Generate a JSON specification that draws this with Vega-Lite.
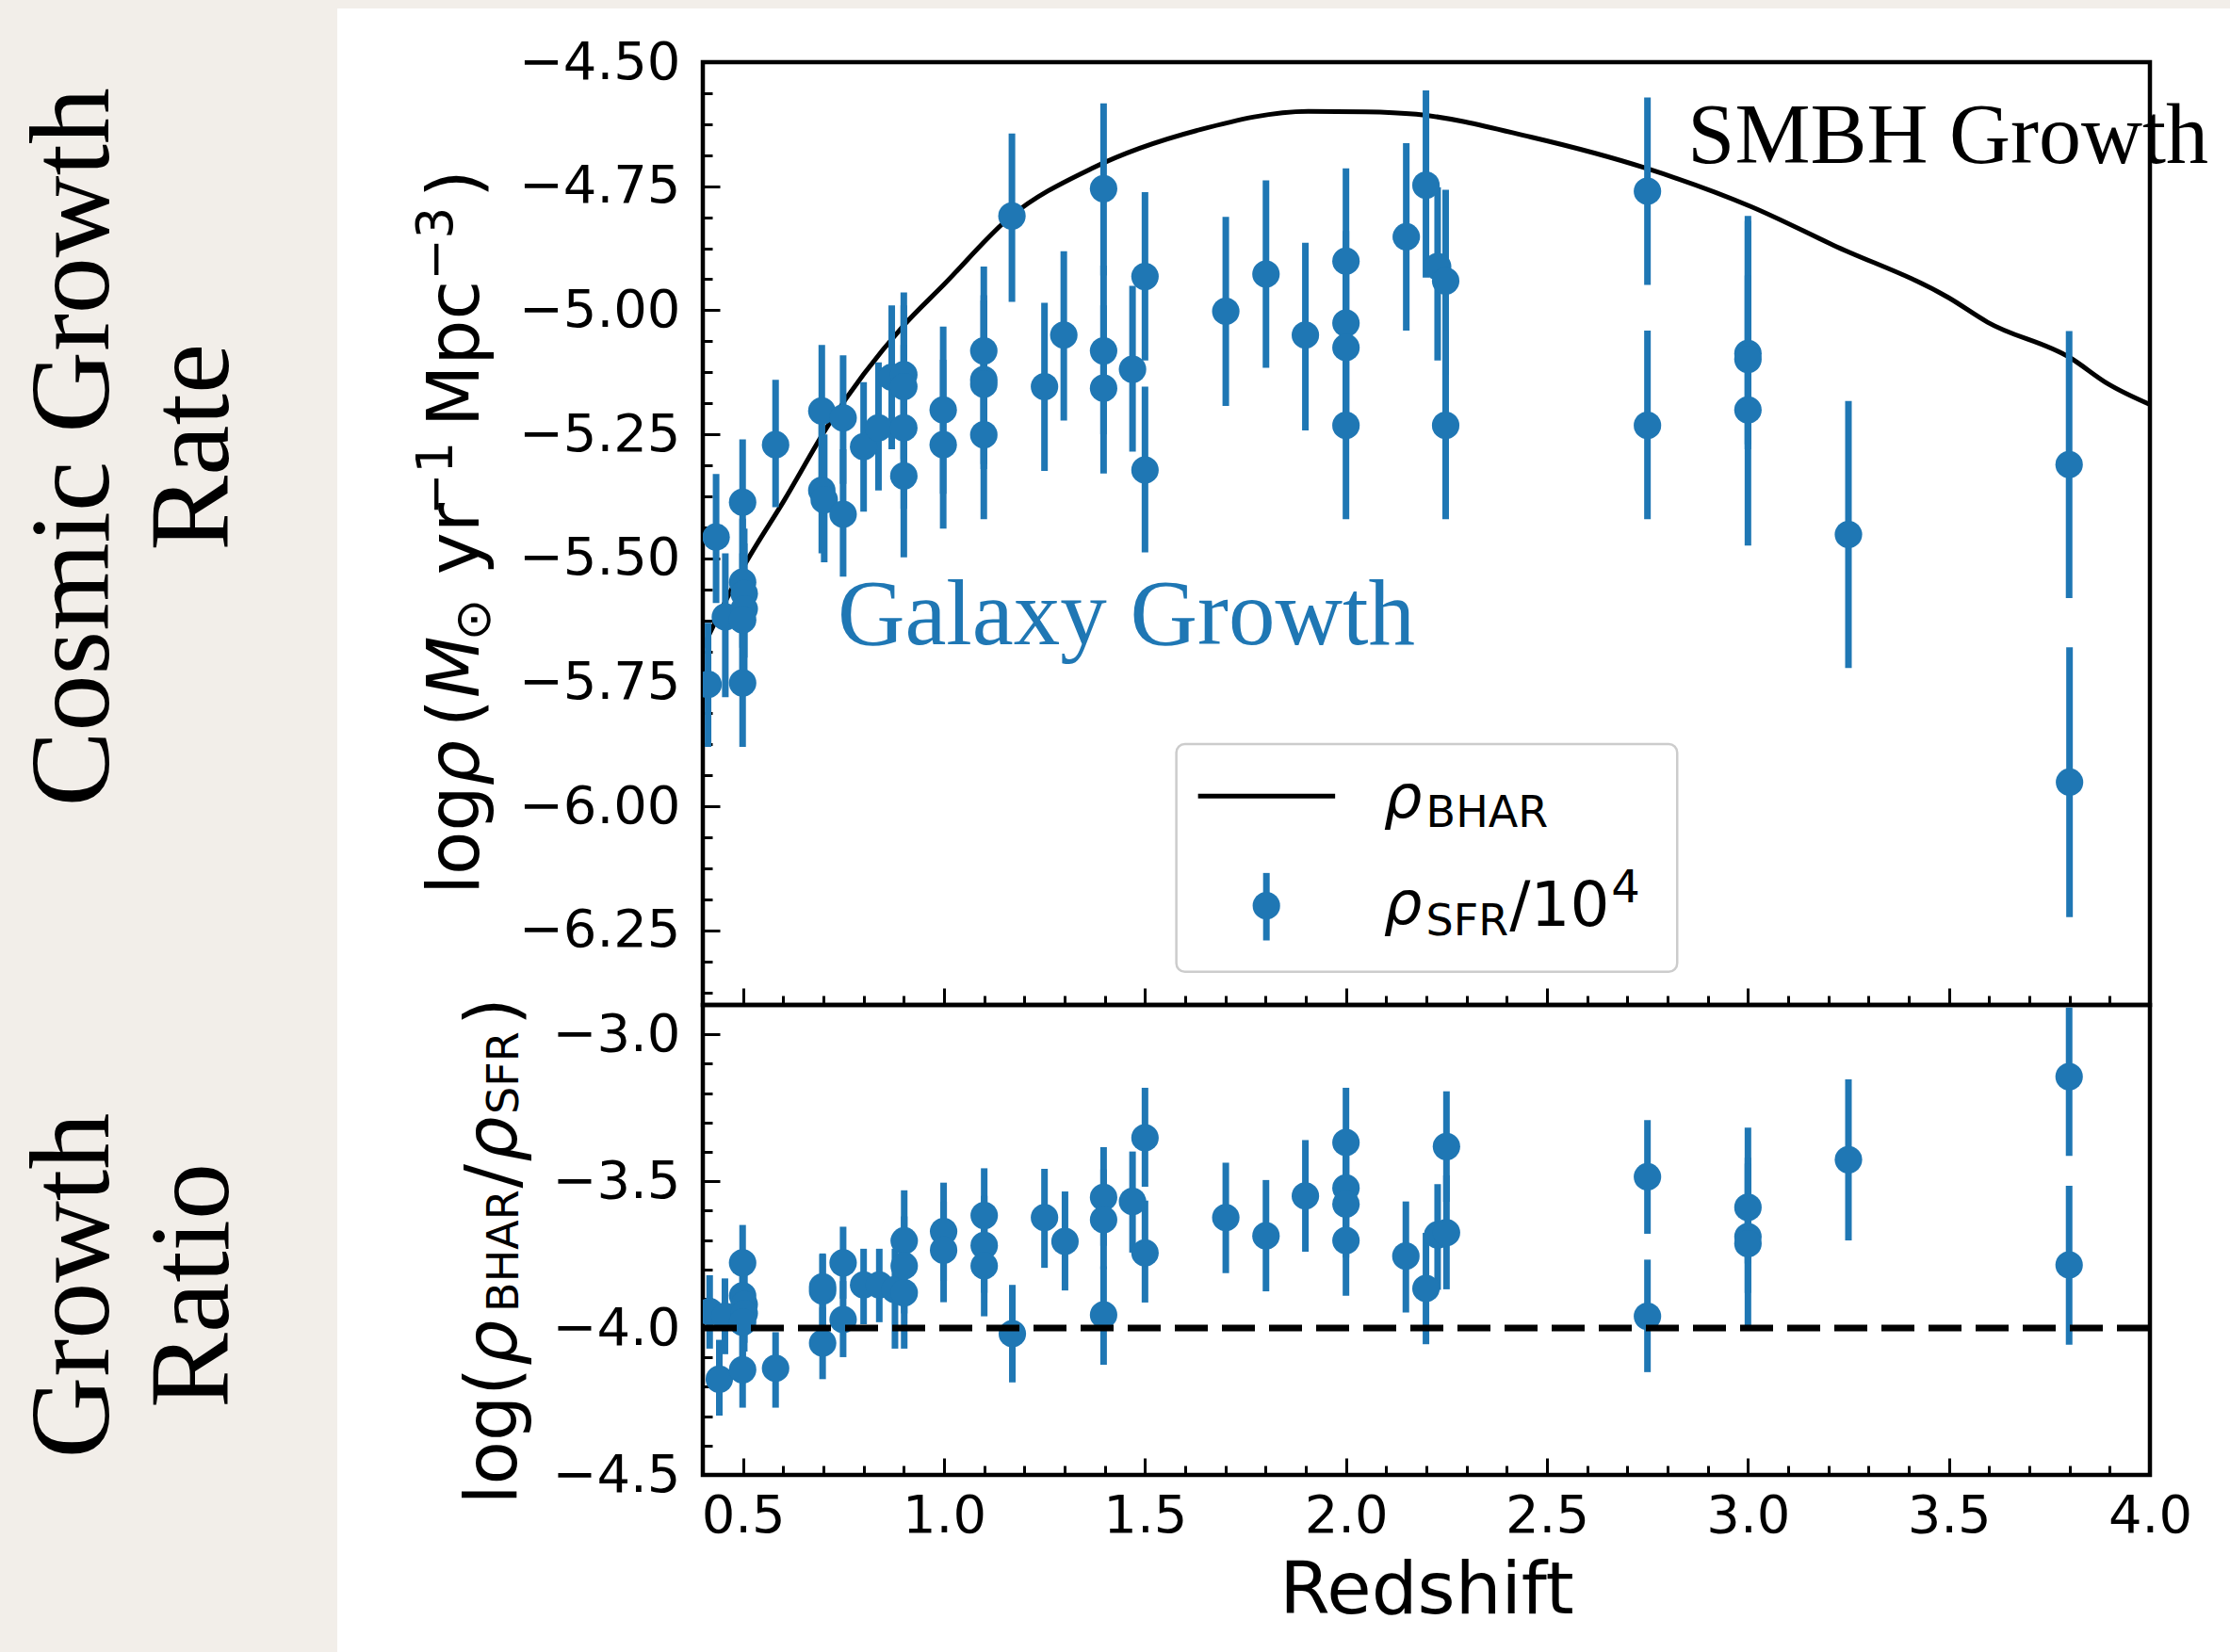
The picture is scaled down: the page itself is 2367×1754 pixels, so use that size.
{
  "$schema": "https://vega.github.io/schema/vega-lite/v6.json",
  "background": "white",
  "padding": 0,
  "spacing": 0,
  "bounds": "flush",
  "config": {
    "view": {"stroke": "black", "strokeWidth": 4.5},
    "font": "DejaVu Sans",
    "axis": {"domain": false, "grid": false, "labelFont": "DejaVu Sans", "labelFontSize": 56, "labelColor": "black", "tickColor": "black", "tickWidth": 3, "titleFont": "DejaVu Sans", "titleFontWeight": "normal", "titleColor": "black", "labelOverlap": false, "labelFlush": false}
  },
  "datasets": {
    "bhar": [
      {"z": 0.4, "y": -5.68}, {"z": 0.495, "y": -5.526}, {"z": 0.604, "y": -5.381}, {"z": 0.714, "y": -5.229},
      {"z": 0.897, "y": -5.033}, {"z": 1.0, "y": -4.948}, {"z": 1.166, "y": -4.811}, {"z": 1.368, "y": -4.714},
      {"z": 1.637, "y": -4.636}, {"z": 1.906, "y": -4.599}, {"z": 2.049, "y": -4.600}, {"z": 2.175, "y": -4.605},
      {"z": 2.46, "y": -4.651}, {"z": 2.747, "y": -4.714}, {"z": 3.007, "y": -4.791}, {"z": 3.213, "y": -4.869},
      {"z": 3.5, "y": -4.975}, {"z": 3.596, "y": -5.024}, {"z": 3.802, "y": -5.096}, {"z": 3.897, "y": -5.149},
      {"z": 4.0, "y": -5.19}
    ],
    "sfr": [
      {"z": 0.413, "y": -5.754, "lo": -5.88, "hi": -5.63},
      {"z": 0.433, "y": -5.457, "lo": -5.59, "hi": -5.33},
      {"z": 0.456, "y": -5.618, "lo": -5.78, "hi": -5.49},
      {"z": 0.499, "y": -5.387, "lo": -5.52, "hi": -5.26},
      {"z": 0.499, "y": -5.548, "lo": -5.68, "hi": -5.42},
      {"z": 0.503, "y": -5.571, "lo": -5.70, "hi": -5.44},
      {"z": 0.503, "y": -5.602, "lo": -5.73, "hi": -5.47},
      {"z": 0.499, "y": -5.624, "lo": -5.76, "hi": -5.49},
      {"z": 0.499, "y": -5.751, "lo": -5.88, "hi": -5.62},
      {"z": 0.581, "y": -5.271, "lo": -5.397, "hi": -5.14},
      {"z": 0.696, "y": -5.203, "lo": -5.34, "hi": -5.07},
      {"z": 0.696, "y": -5.363, "lo": -5.49, "hi": -5.23},
      {"z": 0.702, "y": -5.382, "lo": -5.508, "hi": -5.25},
      {"z": 0.749, "y": -5.217, "lo": -5.35, "hi": -5.091},
      {"z": 0.749, "y": -5.411, "lo": -5.537, "hi": -5.28},
      {"z": 0.8, "y": -5.275, "lo": -5.406, "hi": -5.145},
      {"z": 0.837, "y": -5.237, "lo": -5.363, "hi": -5.105},
      {"z": 0.87, "y": -5.135, "lo": -5.28, "hi": -4.99},
      {"z": 0.9, "y": -5.13, "lo": -5.3, "hi": -4.964},
      {"z": 0.9, "y": -5.154, "lo": -5.32, "hi": -4.99},
      {"z": 0.9, "y": -5.237, "lo": -5.4, "hi": -5.07},
      {"z": 0.9, "y": -5.334, "lo": -5.498, "hi": -5.17},
      {"z": 0.998, "y": -5.201, "lo": -5.37, "hi": -5.033},
      {"z": 0.998, "y": -5.271, "lo": -5.44, "hi": -5.1},
      {"z": 1.099, "y": -5.082, "lo": -5.25, "hi": -4.912},
      {"z": 1.099, "y": -5.14, "lo": -5.31, "hi": -4.97},
      {"z": 1.099, "y": -5.149, "lo": -5.32, "hi": -4.98},
      {"z": 1.099, "y": -5.251, "lo": -5.421, "hi": -5.08},
      {"z": 1.169, "y": -4.81, "lo": -4.983, "hi": -4.644},
      {"z": 1.25, "y": -5.154, "lo": -5.324, "hi": -4.985},
      {"z": 1.298, "y": -5.05, "lo": -5.222, "hi": -4.881},
      {"z": 1.397, "y": -4.755, "lo": -4.93, "hi": -4.583},
      {"z": 1.397, "y": -5.082, "lo": -5.25, "hi": -4.91},
      {"z": 1.397, "y": -5.157, "lo": -5.329, "hi": -4.99},
      {"z": 1.469, "y": -5.119, "lo": -5.285, "hi": -4.951},
      {"z": 1.5, "y": -4.932, "lo": -5.101, "hi": -4.762},
      {"z": 1.5, "y": -5.322, "lo": -5.488, "hi": -5.154},
      {"z": 1.701, "y": -5.002, "lo": -5.193, "hi": -4.812},
      {"z": 1.801, "y": -4.927, "lo": -5.116, "hi": -4.738},
      {"z": 1.899, "y": -5.05, "lo": -5.242, "hi": -4.864},
      {"z": 2.0, "y": -4.901, "lo": -5.09, "hi": -4.714},
      {"z": 2.0, "y": -5.026, "lo": -5.21, "hi": -4.84},
      {"z": 2.0, "y": -5.075, "lo": -5.26, "hi": -4.89},
      {"z": 2.0, "y": -5.232, "lo": -5.421, "hi": -5.04},
      {"z": 2.15, "y": -4.852, "lo": -5.041, "hi": -4.663},
      {"z": 2.199, "y": -4.748, "lo": -4.934, "hi": -4.557},
      {"z": 2.228, "y": -4.912, "lo": -5.101, "hi": -4.752},
      {"z": 2.248, "y": -4.941, "lo": -5.13, "hi": -4.757},
      {"z": 2.248, "y": -5.232, "lo": -5.421, "hi": -5.04},
      {"z": 2.75, "y": -4.76, "lo": -4.949, "hi": -4.571},
      {"z": 2.75, "y": -5.232, "lo": -5.421, "hi": -5.041},
      {"z": 3.0, "y": -5.087, "lo": -5.27, "hi": -4.81},
      {"z": 3.0, "y": -5.099, "lo": -5.28, "hi": -4.82},
      {"z": 3.0, "y": -5.201, "lo": -5.474, "hi": -4.93},
      {"z": 3.25, "y": -5.452, "lo": -5.721, "hi": -5.183},
      {"z": 3.799, "y": -5.311, "lo": -5.58, "hi": -5.042},
      {"z": 3.8, "y": -5.951, "lo": -6.223, "hi": -5.679}
    ],
    "ratio": [
      {"z": 0.417, "r": -3.944, "lo": -4.07, "hi": -3.82},
      {"z": 0.441, "r": -4.174, "lo": -4.298, "hi": -4.04},
      {"z": 0.455, "r": -3.96, "lo": -4.089, "hi": -3.831},
      {"z": 0.499, "r": -3.778, "lo": -3.9, "hi": -3.649},
      {"z": 0.499, "r": -3.89, "lo": -4.02, "hi": -3.76},
      {"z": 0.503, "r": -3.92, "lo": -4.05, "hi": -3.79},
      {"z": 0.503, "r": -3.95, "lo": -4.08, "hi": -3.82},
      {"z": 0.499, "r": -3.98, "lo": -4.11, "hi": -3.85},
      {"z": 0.499, "r": -4.142, "lo": -4.271, "hi": -4.01},
      {"z": 0.581, "r": -4.137, "lo": -4.271, "hi": -4.014},
      {"z": 0.698, "r": -3.874, "lo": -4.0, "hi": -3.746},
      {"z": 0.698, "r": -3.86, "lo": -3.99, "hi": -3.75},
      {"z": 0.698, "r": -4.051, "lo": -4.174, "hi": -3.93},
      {"z": 0.749, "r": -3.778, "lo": -3.9, "hi": -3.655},
      {"z": 0.749, "r": -3.971, "lo": -4.099, "hi": -3.84},
      {"z": 0.8, "r": -3.853, "lo": -3.987, "hi": -3.73},
      {"z": 0.839, "r": -3.853, "lo": -3.98, "hi": -3.73},
      {"z": 0.878, "r": -3.869, "lo": -4.07, "hi": -3.73},
      {"z": 0.901, "r": -3.703, "lo": -3.87, "hi": -3.531},
      {"z": 0.901, "r": -3.788, "lo": -3.95, "hi": -3.62},
      {"z": 0.901, "r": -3.88, "lo": -4.07, "hi": -3.72},
      {"z": 0.999, "r": -3.671, "lo": -3.84, "hi": -3.505},
      {"z": 0.999, "r": -3.735, "lo": -3.912, "hi": -3.57},
      {"z": 1.1, "r": -3.617, "lo": -3.78, "hi": -3.456},
      {"z": 1.1, "r": -3.719, "lo": -3.88, "hi": -3.55},
      {"z": 1.1, "r": -3.788, "lo": -3.96, "hi": -3.62},
      {"z": 1.17, "r": -4.019, "lo": -4.185, "hi": -3.853},
      {"z": 1.25, "r": -3.624, "lo": -3.795, "hi": -3.458},
      {"z": 1.301, "r": -3.705, "lo": -3.872, "hi": -3.535},
      {"z": 1.397, "r": -3.555, "lo": -3.72, "hi": -3.384},
      {"z": 1.397, "r": -3.631, "lo": -3.8, "hi": -3.46},
      {"z": 1.397, "r": -3.955, "lo": -4.125, "hi": -3.79},
      {"z": 1.469, "r": -3.569, "lo": -3.743, "hi": -3.399},
      {"z": 1.5, "r": -3.352, "lo": -3.519, "hi": -3.182},
      {"z": 1.5, "r": -3.744, "lo": -3.913, "hi": -3.566},
      {"z": 1.701, "r": -3.624, "lo": -3.813, "hi": -3.437},
      {"z": 1.801, "r": -3.686, "lo": -3.875, "hi": -3.496},
      {"z": 1.899, "r": -3.55, "lo": -3.74, "hi": -3.36},
      {"z": 2.0, "r": -3.368, "lo": -3.56, "hi": -3.182},
      {"z": 2.0, "r": -3.523, "lo": -3.71, "hi": -3.34},
      {"z": 2.0, "r": -3.578, "lo": -3.76, "hi": -3.39},
      {"z": 2.0, "r": -3.702, "lo": -3.89, "hi": -3.52},
      {"z": 2.149, "r": -3.755, "lo": -3.947, "hi": -3.569},
      {"z": 2.199, "r": -3.865, "lo": -4.055, "hi": -3.676},
      {"z": 2.228, "r": -3.683, "lo": -3.87, "hi": -3.51},
      {"z": 2.25, "r": -3.675, "lo": -3.868, "hi": -3.48},
      {"z": 2.25, "r": -3.382, "lo": -3.57, "hi": -3.194},
      {"z": 2.75, "r": -3.485, "lo": -3.679, "hi": -3.292},
      {"z": 2.75, "r": -3.96, "lo": -4.15, "hi": -3.767},
      {"z": 3.0, "r": -3.589, "lo": -3.78, "hi": -3.318},
      {"z": 3.0, "r": -3.689, "lo": -3.88, "hi": -3.42},
      {"z": 3.0, "r": -3.713, "lo": -3.999, "hi": -3.44},
      {"z": 3.25, "r": -3.427, "lo": -3.702, "hi": -3.153},
      {"z": 3.799, "r": -3.144, "lo": -3.414, "hi": -2.909},
      {"z": 3.799, "r": -3.785, "lo": -4.057, "hi": -3.516}
    ],
    "legBox": [{"x1": 1.578, "x2": 2.824, "y1": -6.333, "y2": -5.874}],
    "legLine": [{"z1": 1.632, "z2": 1.973, "y": -5.979}],
    "legPt": [{"z": 1.802, "y": -6.2, "lo": -6.27, "hi": -6.134}],
    "legRho": [{"t": "ρ", "z": 2.094, "y": -6.022}, {"t": "ρ", "z": 2.094, "y": -6.237}],
    "legSub": [{"t": "BHAR", "z": 2.199, "y": -6.041}, {"t": "SFR", "z": 2.199, "y": -6.26}],
    "legBig": [{"t": "/10", "z": 2.407, "y": -6.241}],
    "legSup": [{"t": "4", "z": 2.66, "y": -6.193}],
    "noteBlue": [{"t": "Galaxy Growth", "z": 0.735, "y": -5.673}],
    "noteBlack": [{"t": "SMBH Growth", "z": 2.85, "y": -4.704}],
    "topTitleReg": [
      {"t": "log", "z": -0.157, "y": -6.178},
      {"t": "(", "z": -0.157, "y": -5.84},
      {"t": "yr", "z": -0.157, "y": -5.533},
      {"t": "Mpc", "z": -0.157, "y": -5.235},
      {"t": ")", "z": -0.157, "y": -4.773}
    ],
    "topTitleIt": [
      {"t": "ρ", "z": -0.157, "y": -5.958},
      {"t": "M", "z": -0.157, "y": -5.781}
    ],
    "topTitleSmall": [
      {"t": "⊙", "z": -0.129, "y": -5.666},
      {"t": "−1", "z": -0.223, "y": -5.413},
      {"t": "−3", "z": -0.223, "y": -4.94}
    ],
    "botTitleReg": [
      {"t": "log(", "z": -0.0637, "r": -4.601},
      {"t": "/", "z": -0.0637, "r": -3.524},
      {"t": ")", "z": -0.0637, "r": -2.97}
    ],
    "botTitleIt": [
      {"t": "ρ", "z": -0.0637, "r": -4.128},
      {"t": "ρ", "z": -0.0637, "r": -3.435}
    ],
    "botTitleSmall": [
      {"t": "BHAR", "z": -0.059, "r": -3.945},
      {"t": "SFR", "z": -0.059, "r": -3.272}
    ],
    "side": [{"panel": "rate", "label": "Cosmic Growth\nRate"}, {"panel": "ratio", "label": "Growth\nRatio"}],
    "blank": [{"k": 1}],
    "level": [{"r": -4}]
  },
  "vconcat": [
    {
      "width": 2367, "height": 9,
      "view": {"fill": "#f2eee9", "stroke": null},
      "data": {"name": "blank"},
      "mark": {"type": "point", "opacity": 0}
    },
    {
      "hconcat": [
        {
          "width": 358, "height": 1745,
          "view": {"fill": "#f2eee9", "stroke": null},
          "data": {"name": "side"},
          "mark": {"type": "text", "font": "Liberation Serif", "fontSize": 120, "angle": 270, "align": "center", "baseline": "middle", "lineBreak": "\n", "lineHeight": 127, "color": "black"},
          "encoding": {
            "x": {"datum": "a", "type": "nominal", "scale": {"type": "point", "domain": ["a"], "padding": 0.5, "align": 0.22}, "axis": null},
            "y": {"field": "panel", "type": "nominal", "scale": {"type": "point", "domain": ["rate", "ratio"], "padding": 0.48, "align": 0.545}, "axis": null},
            "text": {"field": "label", "type": "nominal"}
          }
        },
        {
          "vconcat": [
            {
              "width": 1536, "height": 57,
              "view": {"stroke": null},
              "data": {"name": "blank"},
              "mark": {"type": "point", "opacity": 0}
            },
            {
              "width": 1536, "height": 1001,
              "resolve": {"axis": {"x": "independent", "y": "independent"}},
              "layer": [
                {
                  "data": {"name": "bhar"},
                  "mark": {"type": "line", "color": "black", "strokeWidth": 5, "interpolate": "monotone", "clip": true},
                  "encoding": {
                    "x": {"field": "z", "type": "quantitative", "scale": {"domain": [0.4, 4.0], "nice": false, "zero": false},
                      "axis": {"orient": "bottom", "values": [0.5,1.0,1.5,2.0,2.5,3.0,3.5,4.0], "labels": false, "title": null, "tickSize": -18}},
                    "y": {"field": "y", "type": "quantitative", "scale": {"domain": [-6.4, -4.5], "nice": false, "zero": false},
                      "axis": {"orient": "left", "values": [-6.25,-6.0,-5.75,-5.5,-5.25,-5.0,-4.75,-4.5],
                        "format": ".2f", "tickSize": -18, "labelPadding": 42, "title": null}}
                  }
                },
                {
                  "data": {"name": "sfr"},
                  "mark": {"type": "rule", "color": "#1f77b4", "strokeWidth": 7, "clip": true},
                  "encoding": {
                    "x": {"field": "z", "type": "quantitative", "scale": {"domain": [0.4, 4.0], "nice": false, "zero": false},
                      "axis": {"orient": "bottom", "values": [0.4,0.6,0.7,0.8,0.9,1.1,1.2,1.3,1.4,1.6,1.7,1.8,1.9,2.1,2.2,2.3,2.4,2.6,2.7,2.8,2.9,3.1,3.2,3.3,3.4,3.6,3.7,3.8,3.9], "labels": false, "title": null, "tickSize": -10}},
                    "y": {"field": "lo", "type": "quantitative", "scale": {"domain": [-6.4, -4.5], "nice": false, "zero": false},
                      "axis": {"orient": "left", "values": [-6.375,-6.3125,-6.1875,-6.125,-6.0625,-5.9375,-5.875,-5.8125,-5.6875,-5.625,-5.5625,-5.4375,-5.375,-5.3125,-5.1875,-5.125,-5.0625,-4.9375,-4.875,-4.8125,-4.6875,-4.625,-4.5625], "labels": false, "title": null, "tickSize": -10}},
                    "y2": {"field": "hi"}
                  }
                },
                {
                  "data": {"name": "sfr"},
                  "mark": {"type": "circle", "color": "#1f77b4", "size": 850, "opacity": 1, "clip": true},
                  "encoding": {
                    "x": {"field": "z", "type": "quantitative", "scale": {"domain": [0.4, 4.0], "nice": false, "zero": false}, "axis": null},
                    "y": {"field": "y", "type": "quantitative", "scale": {"domain": [-6.4, -4.5], "nice": false, "zero": false}, "axis": null}
                  }
                },
                {
                  "data": {"name": "noteBlue"},
                  "mark": {"type": "text", "font": "Liberation Serif", "fontSize": 99, "color": "#1f77b4", "align": "left", "baseline": "alphabetic"},
                  "encoding": {
                    "x": {"field": "z", "type": "quantitative", "scale": {"domain": [0.4, 4.0], "nice": false, "zero": false}, "axis": null},
                    "y": {"field": "y", "type": "quantitative", "scale": {"domain": [-6.4, -4.5], "nice": false, "zero": false}, "axis": null},
                    "text": {"field": "t"}
                  }
                },
                {
                  "data": {"name": "noteBlack"},
                  "mark": {"type": "text", "font": "Liberation Serif", "fontSize": 90, "color": "black", "align": "left", "baseline": "alphabetic"},
                  "encoding": {
                    "x": {"field": "z", "type": "quantitative", "scale": {"domain": [0.4, 4.0], "nice": false, "zero": false}, "axis": null},
                    "y": {"field": "y", "type": "quantitative", "scale": {"domain": [-6.4, -4.5], "nice": false, "zero": false}, "axis": null},
                    "text": {"field": "t"}
                  }
                },
                {
                  "data": {"name": "legBox"},
                  "mark": {"type": "rect", "fill": "white", "fillOpacity": 0.8, "stroke": "#cccccc", "strokeWidth": 2.5, "cornerRadius": 9},
                  "encoding": {
                    "x": {"field": "x1", "type": "quantitative", "scale": {"domain": [0.4, 4.0], "nice": false, "zero": false}, "axis": null},
                    "x2": {"field": "x2"},
                    "y": {"field": "y1", "type": "quantitative", "scale": {"domain": [-6.4, -4.5], "nice": false, "zero": false}, "axis": null},
                    "y2": {"field": "y2"}
                  }
                },
                {
                  "data": {"name": "legLine"},
                  "mark": {"type": "rule", "color": "black", "strokeWidth": 5},
                  "encoding": {
                    "x": {"field": "z1", "type": "quantitative", "scale": {"domain": [0.4, 4.0], "nice": false, "zero": false}, "axis": null},
                    "x2": {"field": "z2"},
                    "y": {"field": "y", "type": "quantitative", "scale": {"domain": [-6.4, -4.5], "nice": false, "zero": false}, "axis": null}
                  }
                },
                {
                  "data": {"name": "legPt"},
                  "mark": {"type": "rule", "color": "#1f77b4", "strokeWidth": 7},
                  "encoding": {
                    "x": {"field": "z", "type": "quantitative", "scale": {"domain": [0.4, 4.0], "nice": false, "zero": false}, "axis": null},
                    "y": {"field": "lo", "type": "quantitative", "scale": {"domain": [-6.4, -4.5], "nice": false, "zero": false}, "axis": null},
                    "y2": {"field": "hi"}
                  }
                },
                {
                  "data": {"name": "legPt"},
                  "mark": {"type": "circle", "color": "#1f77b4", "size": 850, "opacity": 1},
                  "encoding": {
                    "x": {"field": "z", "type": "quantitative", "scale": {"domain": [0.4, 4.0], "nice": false, "zero": false}, "axis": null},
                    "y": {"field": "y", "type": "quantitative", "scale": {"domain": [-6.4, -4.5], "nice": false, "zero": false}, "axis": null}
                  }
                },
                {
                  "data": {"name": "legRho"},
                  "mark": {"type": "text", "font": "DejaVu Sans", "fontStyle": "italic", "fontSize": 64, "color": "black", "align": "left", "baseline": "alphabetic"},
                  "encoding": {
                    "x": {"field": "z", "type": "quantitative", "scale": {"domain": [0.4, 4.0], "nice": false, "zero": false}, "axis": null},
                    "y": {"field": "y", "type": "quantitative", "scale": {"domain": [-6.4, -4.5], "nice": false, "zero": false}, "axis": null},
                    "text": {"field": "t"}
                  }
                },
                {
                  "data": {"name": "legSub"},
                  "mark": {"type": "text", "font": "DejaVu Sans", "fontSize": 46, "color": "black", "align": "left", "baseline": "alphabetic"},
                  "encoding": {
                    "x": {"field": "z", "type": "quantitative", "scale": {"domain": [0.4, 4.0], "nice": false, "zero": false}, "axis": null},
                    "y": {"field": "y", "type": "quantitative", "scale": {"domain": [-6.4, -4.5], "nice": false, "zero": false}, "axis": null},
                    "text": {"field": "t"}
                  }
                },
                {
                  "data": {"name": "legBig"},
                  "mark": {"type": "text", "font": "DejaVu Sans", "fontSize": 66, "color": "black", "align": "left", "baseline": "alphabetic"},
                  "encoding": {
                    "x": {"field": "z", "type": "quantitative", "scale": {"domain": [0.4, 4.0], "nice": false, "zero": false}, "axis": null},
                    "y": {"field": "y", "type": "quantitative", "scale": {"domain": [-6.4, -4.5], "nice": false, "zero": false}, "axis": null},
                    "text": {"field": "t"}
                  }
                },
                {
                  "data": {"name": "legSup"},
                  "mark": {"type": "text", "font": "DejaVu Sans", "fontSize": 48, "color": "black", "align": "left", "baseline": "alphabetic"},
                  "encoding": {
                    "x": {"field": "z", "type": "quantitative", "scale": {"domain": [0.4, 4.0], "nice": false, "zero": false}, "axis": null},
                    "y": {"field": "y", "type": "quantitative", "scale": {"domain": [-6.4, -4.5], "nice": false, "zero": false}, "axis": null},
                    "text": {"field": "t"}
                  }
                },
                {
                  "data": {"name": "topTitleReg"},
                  "mark": {"type": "text", "font": "DejaVu Sans", "fontSize": 76, "color": "black", "angle": 270, "align": "left", "baseline": "alphabetic"},
                  "encoding": {
                    "x": {"field": "z", "type": "quantitative", "scale": {"domain": [0.4, 4.0], "nice": false, "zero": false}, "axis": null},
                    "y": {"field": "y", "type": "quantitative", "scale": {"domain": [-6.4, -4.5], "nice": false, "zero": false}, "axis": null},
                    "text": {"field": "t"}
                  }
                },
                {
                  "data": {"name": "topTitleIt"},
                  "mark": {"type": "text", "font": "DejaVu Sans", "fontStyle": "italic", "fontSize": 76, "color": "black", "angle": 270, "align": "left", "baseline": "alphabetic"},
                  "encoding": {
                    "x": {"field": "z", "type": "quantitative", "scale": {"domain": [0.4, 4.0], "nice": false, "zero": false}, "axis": null},
                    "y": {"field": "y", "type": "quantitative", "scale": {"domain": [-6.4, -4.5], "nice": false, "zero": false}, "axis": null},
                    "text": {"field": "t"}
                  }
                },
                {
                  "data": {"name": "topTitleSmall"},
                  "mark": {"type": "text", "font": "DejaVu Sans", "fontSize": 53, "color": "black", "angle": 270, "align": "left", "baseline": "alphabetic"},
                  "encoding": {
                    "x": {"field": "z", "type": "quantitative", "scale": {"domain": [0.4, 4.0], "nice": false, "zero": false}, "axis": null},
                    "y": {"field": "y", "type": "quantitative", "scale": {"domain": [-6.4, -4.5], "nice": false, "zero": false}, "axis": null},
                    "text": {"field": "t"}
                  }
                }
              ]
            },
            {
              "width": 1536, "height": 499,
              "resolve": {"axis": {"x": "independent", "y": "independent"}},
              "layer": [
                {
                  "data": {"name": "ratio"},
                  "mark": {"type": "rule", "color": "#1f77b4", "strokeWidth": 7, "clip": true},
                  "encoding": {
                    "x": {"field": "z", "type": "quantitative", "scale": {"domain": [0.4, 4.0], "nice": false, "zero": false},
                      "axis": {"orient": "bottom", "values": [0.5,1.0,1.5,2.0,2.5,3.0,3.5,4.0], "format": ".1f", "tickSize": -18, "labelPadding": 34,
                        "title": "Redshift", "titleFontSize": 77, "titlePadding": 14}},
                    "y": {"field": "lo", "type": "quantitative", "scale": {"domain": [-4.5, -2.9], "nice": false, "zero": false},
                      "axis": {"orient": "left", "values": [-4.5,-4.0,-3.5,-3.0], "format": ".1f", "tickSize": -18, "labelPadding": 42, "title": null}},
                    "y2": {"field": "hi"}
                  }
                },
                {
                  "data": {"name": "ratio"},
                  "mark": {"type": "circle", "color": "#1f77b4", "size": 850, "opacity": 1, "clip": true},
                  "encoding": {
                    "x": {"field": "z", "type": "quantitative", "scale": {"domain": [0.4, 4.0], "nice": false, "zero": false},
                      "axis": {"orient": "bottom", "values": [0.4,0.6,0.7,0.8,0.9,1.1,1.2,1.3,1.4,1.6,1.7,1.8,1.9,2.1,2.2,2.3,2.4,2.6,2.7,2.8,2.9,3.1,3.2,3.3,3.4,3.6,3.7,3.8,3.9], "labels": false, "title": null, "tickSize": -10}},
                    "y": {"field": "r", "type": "quantitative", "scale": {"domain": [-4.5, -2.9], "nice": false, "zero": false},
                      "axis": {"orient": "left", "values": [-4.4,-4.3,-4.2,-4.1,-3.9,-3.8,-3.7,-3.6,-3.4,-3.3,-3.2,-3.1,-2.9], "labels": false, "title": null, "tickSize": -10}}
                  }
                },
                {
                  "data": {"name": "level"},
                  "mark": {"type": "rule", "color": "black", "strokeWidth": 7, "strokeDash": [35, 15]},
                  "encoding": {
                    "y": {"field": "r", "type": "quantitative", "scale": {"domain": [-4.5, -2.9], "nice": false, "zero": false}, "axis": null}
                  }
                },
                {
                  "data": {"name": "botTitleReg"},
                  "mark": {"type": "text", "font": "DejaVu Sans", "fontSize": 76, "color": "black", "angle": 270, "align": "left", "baseline": "alphabetic"},
                  "encoding": {
                    "x": {"field": "z", "type": "quantitative", "scale": {"domain": [0.4, 4.0], "nice": false, "zero": false}, "axis": null},
                    "y": {"field": "r", "type": "quantitative", "scale": {"domain": [-4.5, -2.9], "nice": false, "zero": false}, "axis": null},
                    "text": {"field": "t"}
                  }
                },
                {
                  "data": {"name": "botTitleIt"},
                  "mark": {"type": "text", "font": "DejaVu Sans", "fontStyle": "italic", "fontSize": 76, "color": "black", "angle": 270, "align": "left", "baseline": "alphabetic"},
                  "encoding": {
                    "x": {"field": "z", "type": "quantitative", "scale": {"domain": [0.4, 4.0], "nice": false, "zero": false}, "axis": null},
                    "y": {"field": "r", "type": "quantitative", "scale": {"domain": [-4.5, -2.9], "nice": false, "zero": false}, "axis": null},
                    "text": {"field": "t"}
                  }
                },
                {
                  "data": {"name": "botTitleSmall"},
                  "mark": {"type": "text", "font": "DejaVu Sans", "fontSize": 46, "color": "black", "angle": 270, "align": "left", "baseline": "alphabetic"},
                  "encoding": {
                    "x": {"field": "z", "type": "quantitative", "scale": {"domain": [0.4, 4.0], "nice": false, "zero": false}, "axis": null},
                    "y": {"field": "r", "type": "quantitative", "scale": {"domain": [-4.5, -2.9], "nice": false, "zero": false}, "axis": null},
                    "text": {"field": "t"}
                  }
                }
              ]
            }
          ],
          "spacing": 0,
          "bounds": "flush"
        }
      ],
      "spacing": 388,
      "bounds": "flush"
    }
  ]
}
